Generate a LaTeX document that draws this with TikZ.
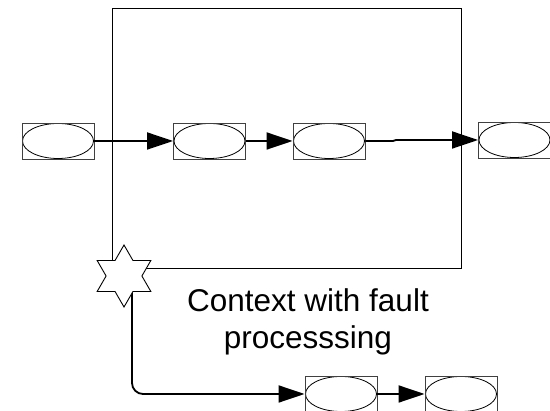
\documentclass[tikz,border=0pt]{standalone}
\usepackage{fontspec}
\setmainfont{Liberation Sans}
\usetikzlibrary{shapes.geometric,arrows.meta}
\begin{document}
\begin{tikzpicture}[x=1pt,y=-1pt,
  elbox/.style={draw=black!75,line width=0.9pt,minimum width=72pt,minimum height=36pt,inner sep=0pt,
    path picture={\draw[black,line width=0.8pt] (path picture bounding box.center) ellipse [x radius=35.5pt,y radius=17.5pt];}},
  conn/.style={line width=1.8pt,-{Triangle[length=26pt,width=17pt]}},
  frame/.style={draw=black,line width=0.9pt}]
\useasboundingbox (0,0) rectangle (550,411);
% frame
\draw[frame] (112,8) rectangle (461,268);
% nodes
\node[elbox] (a) at (58,141) {};
\node[elbox] (b) at (209.5,141) {};
\node[elbox] (c) at (329,141) {};
\node[elbox] (d) at (514.5,140) {};
\node[elbox] (e) at (341,394) {};
\node[elbox] (f) at (461,394) {};
% connectors
\coordinate (s) at (132,280);
\coordinate (j1) at (393,141);
\coordinate (j2) at (396,140);
\draw[conn] (a) -- (b);
\draw[conn] (b) -- (c);
\draw[conn] (c.east) -- (j1) -- (j2) -- (d.west);
\draw[conn,rounded corners=11pt] (s) |- (e.west);
\draw[conn] (e) -- (f);
% star
\node[star,star points=6,star point ratio=1.732,minimum size=62pt,inner sep=0pt,draw=black,line width=0.9pt,fill=white] (st) at (124,276) {};
% label
\node[font=\fontsize{31.5}{37}\selectfont,align=center,anchor=base] (lbl) at (308,349) {Context with fault\\processsing};
\end{tikzpicture}
\end{document}
